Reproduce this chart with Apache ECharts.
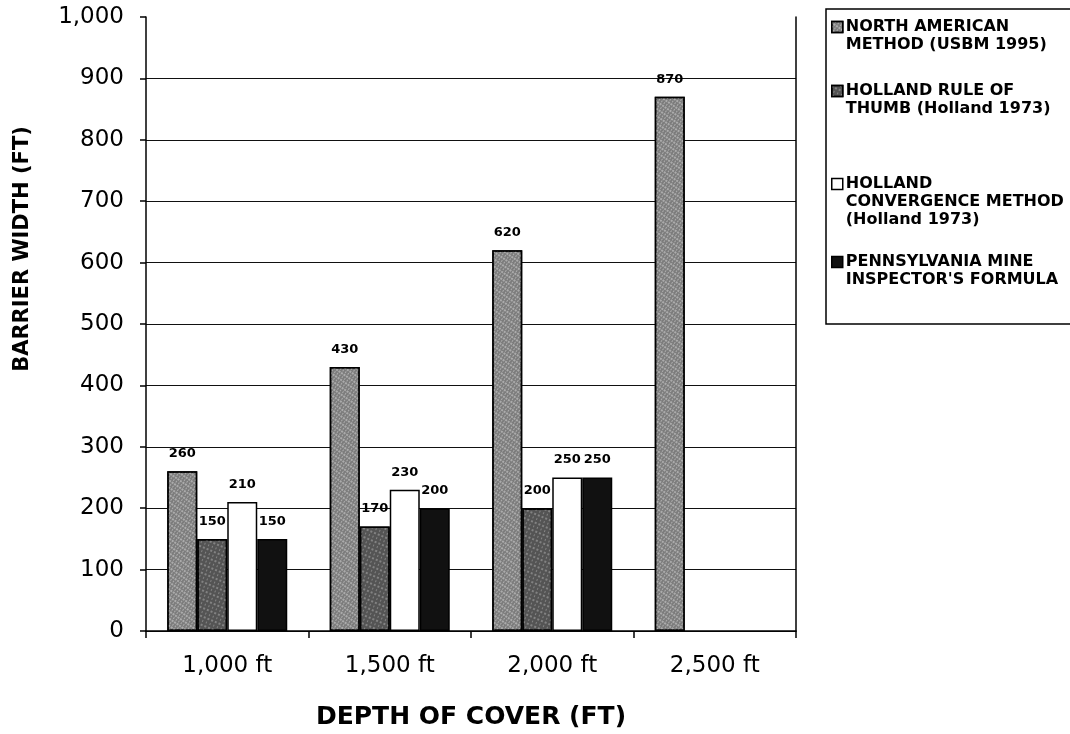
<!DOCTYPE html>
<html>
<head>
<meta charset="utf-8">
<script src="https://cdn.jsdelivr.net/npm/echarts@6/dist/echarts.min.js"></script>
<style>
html,body{margin:0;padding:0;background:#fff;}
#chart{width:1070px;height:734px;}
</style>
</head>
<body>
<div id="chart"></div>
<script>
// ---- data ----
const categories = ['1,000 ft', '1,500 ft', '2,000 ft', '2,500 ft'];
const seriesNames = [
  'NORTH AMERICAN METHOD (USBM 1995)',
  'HOLLAND RULE OF THUMB (Holland 1973)',
  'HOLLAND CONVERGENCE METHOD (Holland 1973)',
  "PENNSYLVANIA MINE INSPECTOR'S FORMULA"
];
const legendLines = [
  ['NORTH AMERICAN', 'METHOD (USBM 1995)'],
  ['HOLLAND RULE OF', 'THUMB (Holland 1973)'],
  ['HOLLAND', 'CONVERGENCE METHOD', '(Holland 1973)'],
  ['PENNSYLVANIA MINE', "INSPECTOR'S FORMULA"]
];
const northAmerican = [260, 430, 620, 870];
const hollandRule = [150, 170, 200, null];
const hollandConvergence = [210, 230, 250, null];
const pennsylvania = [150, 200, 250, null];
const yTicks = [0, 100, 200, 300, 400, 500, 600, 700, 800, 900, 1000];

// ---- styling ----
const FONT = 'DejaVu Sans';
const fills = ['#7c7c7c', '#545454', '#ffffff', '#111111'];
const decals = [
  { symbol: 'rect', symbolSize: 0.9, dashArrayX: [[1, 2], [2, 1]], dashArrayY: [2, 1], color: 'rgba(220,220,220,0.55)', rotation: 0.6 },
  { symbol: 'rect', symbolSize: 0.9, dashArrayX: [[1, 3], [2, 2]], dashArrayY: [2, 2], color: 'rgba(200,200,200,0.45)', rotation: 0.4 },
  null,
  null
];
const dataSets = [northAmerican, hollandRule, hollandConvergence, pennsylvania];

const chart = echarts.init(document.getElementById('chart'));

const lineH = 18;
const firstLineY = [27, 91, 184, 262];
const legends = seriesNames.map((name, i) => {
  const lines = legendLines[i];
  const blanks = lines.length - 1;
  const all = Array(blanks).fill(' ').concat(lines);
  return {
    data: [{ name: name, icon: 'rect' }],
    left: 831,
    top: firstLineY[i] - (blanks + 0.5) * lineH,
    padding: 0,
    itemWidth: 11,
    itemHeight: 11,
    itemGap: 3,
    orient: 'vertical',
    selectedMode: false,
    textStyle: { fontFamily: FONT, fontWeight: 'bold', fontSize: 16, color: '#000', lineHeight: lineH, padding: [0, 0, 0, -2] },
    formatter: () => all.join('\n'),
    itemStyle: { borderColor: '#000', borderWidth: 1.5 }
  };
});

const splitColors = yTicks.map((v, i) => (i === yTicks.length - 1 ? 'rgba(0,0,0,0)' : '#111'));

chart.setOption({
  backgroundColor: '#fff',
  animation: false,
  grid: { left: 146, right: 274, top: 17, bottom: 103, containLabel: false, outerBoundsMode: 'none' },
  legend: legends,
  graphic: [{
    type: 'rect',
    shape: { x: 826, y: 9, width: 260, height: 315 },
    style: { fill: 'none', stroke: '#000', lineWidth: 1.5 },
    silent: true,
    z: -1
  }],
  xAxis: {
    type: 'category',
    data: categories,
    axisLine: { show: true, lineStyle: { color: '#000', width: 1.5 } },
    axisTick: { show: true, length: 7, lineStyle: { color: '#000', width: 1.5 } },
    axisLabel: { fontFamily: FONT, fontSize: 23, color: '#000', margin: 24 },
    name: 'DEPTH OF COVER (FT)',
    nameLocation: 'middle',
    nameGap: 74,
    nameTextStyle: { fontFamily: FONT, fontWeight: 'bold', fontSize: 25, color: '#000' }
  },
  yAxis: [{
    type: 'value',
    min: 0,
    max: 1000,
    interval: 100,
    axisLine: { show: true, lineStyle: { color: '#000', width: 1.5 } },
    axisTick: { show: true, length: 6, lineStyle: { color: '#000', width: 1.5 } },
    axisLabel: {
      fontFamily: FONT, fontSize: 23, color: '#000', margin: 22,
      formatter: v => v.toLocaleString('en-US')
    },
    splitLine: { show: true, lineStyle: { color: splitColors, width: 1 } },
    name: 'BARRIER WIDTH (FT)',
    nameLocation: 'middle',
    nameGap: 113,
    nameTextStyle: { fontFamily: FONT, fontWeight: 'bold', fontSize: 21, color: '#000', padding: [0, 0, 0, 150] }
  }, {
    type: 'value',
    position: 'right',
    min: 0,
    max: 1000,
    interval: 100,
    axisLine: { show: true, lineStyle: { color: '#000', width: 1.5 } },
    axisTick: { show: false },
    axisLabel: { show: false },
    splitLine: { show: false }
  }],
  series: seriesNames.map((name, i) => {
    const itemStyle = { color: fills[i], borderColor: '#000', borderWidth: 1.5 };
    if (decals[i]) itemStyle.decal = decals[i];
    return {
      name: name,
      type: 'bar',
      yAxisIndex: 0,
      data: dataSets[i],
      barWidth: 30,
      barGap: '0%',
      itemStyle: itemStyle,
      label: {
        show: true,
        position: 'top',
        distance: 11,
        fontFamily: FONT,
        fontWeight: 'bold',
        fontSize: 13,
        color: '#000',
        formatter: p => (p.value == null ? '' : String(p.value))
      }
    };
  })
});
</script>
</body>
</html>
